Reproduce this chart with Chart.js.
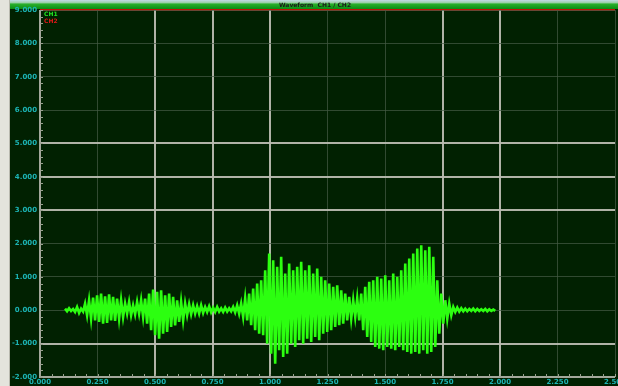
<!DOCTYPE html>
<html>
<head>
<meta charset="utf-8">
<script src="https://cdn.jsdelivr.net/npm/chart.js@4.4.1/dist/chart.umd.min.js"></script>
<style>
  html, body { margin: 0; padding: 0; background: #e4e4dc; }
  #wrap { width: 618px; height: 386px; position: relative; }
</style>
</head>
<body>
<div id="wrap"><canvas id="scope" width="618" height="386"></canvas></div>
<script>
// Sampling of the captured channel (seconds)
const sampleStart = 0.109;
const sampleStep = 0.0087;

// Channel 1 samples, grouped by phrase of the recording (volts)
const leadIn   = [0.05,-0.03,0.06,-0.02,0.04,-0.05,0.1,-0.08,0.05,-0.04];
const burstA   = [0.2,-0.15,0.3,-0.25,0.38,-0.3,0.45,-0.35,0.5,-0.4,0.42,-0.38,0.48,-0.3,0.4,-0.32,0.35,-0.25,0.3,-0.2];
const gapA     = [0.2,-0.1,0.25,-0.15,0.15,-0.12,0.25,-0.1,0.3,-0.2];
const burstB   = [0.35,-0.4,0.5,-0.6,0.62,-0.75,0.55,-0.85,0.6,-0.7,0.45,-0.65,0.5,-0.5,0.4,-0.45,0.3,-0.35,0.25,-0.3];
const tailB    = [0.2,-0.15,0.18,-0.12,0.15,-0.1,0.12,-0.1,0.15,-0.08,0.1,-0.05,0.12,-0.06,0.08,-0.05,0.1,-0.04,0.06,-0.05,0.08,-0.04,0.06,-0.03,0.1,-0.06,0.15,-0.1];
const riseC    = [0.2,-0.2,0.35,-0.3,0.5,-0.45,0.65,-0.6,0.8,-0.7,0.9,-0.75];
const peakC    = [1.2,-1.0,1.7,-1.3,1.5,-1.6,1.3,-1.2,1.6,-1.4,1.1,-1.3,1.4,-1.0,1.2];
const bodyC    = [-1.1,1.3,-0.9,1.45,-1.0,1.2,-0.85,1.35,-0.95,1.1,-0.8,1.25,-0.9,1.0,-0.7,0.9,-0.65,0.8,-0.6,0.7];
const fadeC    = [-0.5,0.75,-0.45,0.6,-0.4,0.5,-0.3,0.4];
const gapC     = [-0.25,0.3,-0.2,0.35,-0.3];
const burstD   = [0.5,-0.6,0.7,-0.8,0.85,-0.95,0.9,-1.1,1.0,-1.15,0.95,-1.2,1.05,-1.1,0.9,-1.15,1.1,-1.2,1.0,-1.1];
const peakD    = [1.2,-1.2,1.4,-1.25,1.55,-1.3,1.7,-1.25,1.85,-1.3,1.95,-1.2,1.8,-1.3,1.9,-1.25,1.6,-1.1];
const decayD   = [0.9,-0.7,0.5,-0.4,0.3,-0.25,0.2,-0.15];
const leadOut  = [0.1,-0.05,0.08,-0.04,0.06,-0.03,0.05,-0.03,0.04,-0.02,0.05,-0.03,0.04,-0.02,0.03,-0.02,0.04,-0.03,0.03,-0.02,0.02,-0.02];

const channel1 = [].concat(leadIn, burstA, gapA, burstB, tailB, riseC, peakC, bodyC,
                           fadeC, gapC, burstD, peakD, decayD, leadOut);

// Axis tick labels
const yTickLabels = ['-2.000','-1.000','0.000','1.000','2.000','3.000','4.000','5.000','6.000','7.000','8.000','9.000'];
const xTickLabels = ['0.000','0.250','0.500','0.750','1.000','1.250','1.500','1.750','2.000','2.250','2.500'];

// Major grid lines drawn bright; the rest stay faint
const brightY = [5, 4, 3, -1];
const brightX = [0.5, 0.75, 1.0, 1.75, 2.0];

const points = channel1.map((v, i) => ({ x: sampleStart + i * sampleStep, y: v }));

const BG = '#012101';
const TICK_COLOR = '#1cb4b4';
const TRACE = '#2cff10';

const scopeFrame = {
  id: 'scopeFrame',
  beforeDraw(chart) {
    const { ctx, width, height } = chart;
    ctx.save();
    ctx.fillStyle = BG;
    ctx.fillRect(0, 0, width, height);
    // left bezel
    ctx.fillStyle = '#e4e4dc';
    ctx.fillRect(0, 0, 10, height);
    ctx.fillStyle = '#b9b9ae';
    ctx.fillRect(9, 0, 1, height);
    // title bar
    const g = ctx.createLinearGradient(0, 0, 0, 9);
    g.addColorStop(0, '#c4dbe8');
    g.addColorStop(0.3, '#9ccfa8');
    g.addColorStop(0.45, '#29b02c');
    g.addColorStop(1, '#0b8d12');
    ctx.fillStyle = g;
    ctx.fillRect(10, 0, width - 10, 9);
    ctx.fillStyle = '#c01208';
    ctx.fillRect(40, 9, width - 43, 2);
    ctx.fillStyle = '#1a1a1a';
    ctx.font = 'bold 6px "DejaVu Sans"';
    ctx.textAlign = 'center';
    ctx.textBaseline = 'middle';
    ctx.fillText('Waveform  CH1 / CH2', 315, 5);
    ctx.restore();
  },
  afterDatasetsDraw(chart) {
    const { ctx, chartArea } = chart;
    const xs = chart.scales.x, ys = chart.scales.y;
    ctx.save();
    // axis lines
    ctx.strokeStyle = '#a4a89c';
    ctx.lineWidth = 2;
    ctx.beginPath();
    ctx.moveTo(chartArea.left, chartArea.top);
    ctx.lineTo(chartArea.left, chartArea.bottom);
    ctx.lineTo(chartArea.right, chartArea.bottom);
    ctx.stroke();
    // minor ticks
    ctx.lineWidth = 1;
    ctx.strokeStyle = '#9aa090';
    ctx.beginPath();
    for (let v = ys.min; v <= ys.max + 1e-9; v += 0.2) {
      const y = Math.round(ys.getPixelForValue(v)) + 0.5;
      ctx.moveTo(chartArea.left, y);
      ctx.lineTo(chartArea.left + 3, y);
    }
    for (let v = xs.min; v <= xs.max + 1e-9; v += 0.05) {
      const x = Math.round(xs.getPixelForValue(v)) + 0.5;
      ctx.moveTo(x, chartArea.bottom);
      ctx.lineTo(x, chartArea.bottom - 3);
    }
    ctx.stroke();
    // channel markers
    ctx.font = 'bold 6px "DejaVu Sans"';
    ctx.textAlign = 'left';
    ctx.textBaseline = 'middle';
    ctx.fillStyle = '#22e022';
    ctx.fillText('CH1', chartArea.left + 4, chartArea.top + 4);
    ctx.fillStyle = '#e01818';
    ctx.fillText('CH2', chartArea.left + 4, chartArea.top + 11);
    ctx.restore();
  }
};

new Chart(document.getElementById('scope'), {
  type: 'line',
  data: {
    datasets: [{
      label: 'CH1',
      data: points,
      borderColor: TRACE,
      backgroundColor: TRACE,
      borderWidth: 2.6,
      borderJoinStyle: 'miter',
      pointRadius: 0,
      tension: 0,
      fill: 'origin'
    }]
  },
  options: {
    responsive: false,
    animation: false,
    devicePixelRatio: 1,
    layout: { padding: { left: 10, top: 10, right: 3, bottom: 0 } },
    plugins: { legend: { display: false }, tooltip: { enabled: false }, filler: { propagate: false } },
    scales: {
      x: {
        type: 'linear',
        min: 0,
        max: 2.5,
        afterFit(s) { s.height = 9; s.paddingLeft = 0; s.paddingRight = 0; },
        afterBuildTicks(s) {
          s.ticks = xTickLabels.map((_, i) => ({ value: i * 0.25 }));
        },
        ticks: {
          autoSkip: false,
          maxRotation: 0,
          padding: 1,
          color: TICK_COLOR,
          font: { size: 7, weight: 'bold', family: 'DejaVu Sans' },
          callback: (v, i) => xTickLabels[i]
        },
        grid: {
          drawTicks: false,
          color: (c) => brightX.some(b => Math.abs(b - c.tick.value) < 1e-6) ? 'rgba(185,188,176,0.95)' : 'rgba(70,92,70,0.7)',
          lineWidth: (c) => brightX.some(b => Math.abs(b - c.tick.value) < 1e-6) ? 2 : 1
        },
        border: { display: false }
      },
      y: {
        min: -2,
        max: 9,
        afterFit(s) { s.width = 30; s.paddingTop = 0; s.paddingBottom = 0; },
        afterBuildTicks(s) {
          s.ticks = yTickLabels.map((_, i) => ({ value: i - 2 }));
        },
        ticks: {
          autoSkip: false,
          padding: 3,
          color: TICK_COLOR,
          font: { size: 7, weight: 'bold', family: 'DejaVu Sans' },
          callback: (v, i) => yTickLabels[i]
        },
        grid: {
          drawTicks: false,
          color: (c) => brightY.includes(c.tick.value) ? 'rgba(185,188,176,0.95)' : 'rgba(70,92,70,0.7)',
          lineWidth: (c) => brightY.includes(c.tick.value) ? 2 : 1
        },
        border: { display: false }
      }
    }
  },
  plugins: [scopeFrame]
});
</script>
</body>
</html>
